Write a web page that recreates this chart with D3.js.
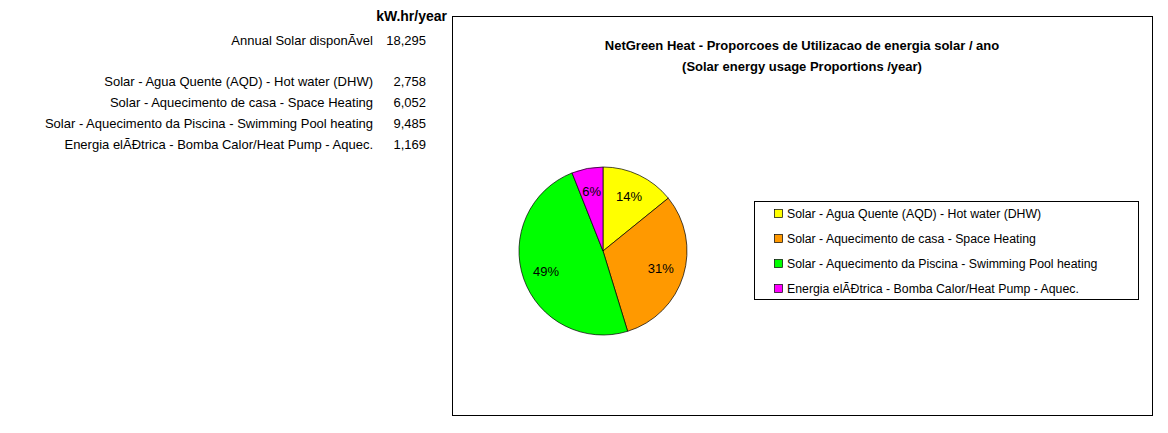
<script src="https://d3js.org/d3.v7.min.js"></script>
<style>body{margin:0;background:#fff} text{font-family:"Liberation Sans",Arial,sans-serif}</style>
<svg width="1168" height="433"></svg>
<script>
var categories = ["Solar - Agua Quente (AQD) - Hot water (DHW)", "Solar - Aquecimento de casa - Space Heating", "Solar - Aquecimento da Piscina - Swimming Pool heating", "Energia elétrica - Bomba Calor/Heat Pump - Aquec."];
var values = [2758, 6052, 9485, 1169];
var colors = ["#ffff00", "#ff9900", "#00ff00", "#ff00ff"];
var annualLabel = "Annual Solar disponível";
var annualValue = 18295;

var svg = d3.select("svg");
var fmt = d3.format(",");

// left table
svg.append("text").attr("x", 447).attr("y", 21).attr("text-anchor", "end")
  .style("font-weight", "bold").style("font-size", "14px").text("kW.hr/year");
svg.append("text").attr("x", 373).attr("y", 45).attr("text-anchor", "end").style("font-size", "13px").text(annualLabel);
svg.append("text").attr("x", 426).attr("y", 45).attr("text-anchor", "end").style("font-size", "13px").text(fmt(annualValue));
var rowY = d3.scaleLinear().domain([0, 1]).range([86, 107]);
categories.forEach(function(c, i) {
  svg.append("text").attr("x", 373).attr("y", rowY(i)).attr("text-anchor", "end").style("font-size", "13px").text(c);
  svg.append("text").attr("x", 426).attr("y", rowY(i)).attr("text-anchor", "end").style("font-size", "13px").text(fmt(values[i]));
});

// chart box
svg.append("rect").attr("x", 452.5).attr("y", 16.5).attr("width", 700).attr("height", 399)
  .attr("fill", "#fff").attr("stroke", "#000");
svg.append("text").attr("x", 802).attr("y", 50).attr("text-anchor", "middle")
  .style("font-weight", "bold").style("font-size", "13px").text("NetGreen Heat - Proporcoes de Utilizacao de energia solar / ano");
svg.append("text").attr("x", 802).attr("y", 71).attr("text-anchor", "middle")
  .style("font-weight", "bold").style("font-size", "13px").text("(Solar energy usage Proportions /year)");

// pie
var total = d3.sum(values);
var pie = d3.pie().sort(null)(values);
var r = 84;
var arc = d3.arc().innerRadius(0).outerRadius(r);
var labelArc = d3.arc().innerRadius(r * 0.72).outerRadius(r * 0.72);
var g = svg.append("g").attr("transform", "translate(603,251)");
g.selectAll("path").data(pie).enter().append("path")
  .attr("d", arc).attr("fill", function(d, i) { return colors[i]; })
  .attr("stroke", "#000").attr("stroke-width", 0.7);
g.selectAll("text").data(pie).enter().append("text")
  .attr("transform", function(d) { return "translate(" + labelArc.centroid(d) + ")"; })
  .attr("text-anchor", "middle").attr("dy", "0.35em").style("font-size", "13px")
  .text(function(d) { return Math.round(d.value / total * 100) + "%"; });

// legend
svg.append("rect").attr("x", 754.5).attr("y", 201.5).attr("width", 384).attr("height", 98)
  .attr("fill", "#fff").attr("stroke", "#000");
var legY = d3.scaleLinear().domain([0, 1]).range([214, 239]);
categories.forEach(function(c, i) {
  svg.append("rect").attr("x", 774.5).attr("y", legY(i) - 4.5).attr("width", 8).attr("height", 8)
    .attr("fill", colors[i]).attr("stroke", "#000").attr("stroke-width", 0.7);
  svg.append("text").attr("x", 787).attr("y", legY(i)).attr("dy", "0.35em").style("font-size", "12.3px").text(c);
});
</script>
